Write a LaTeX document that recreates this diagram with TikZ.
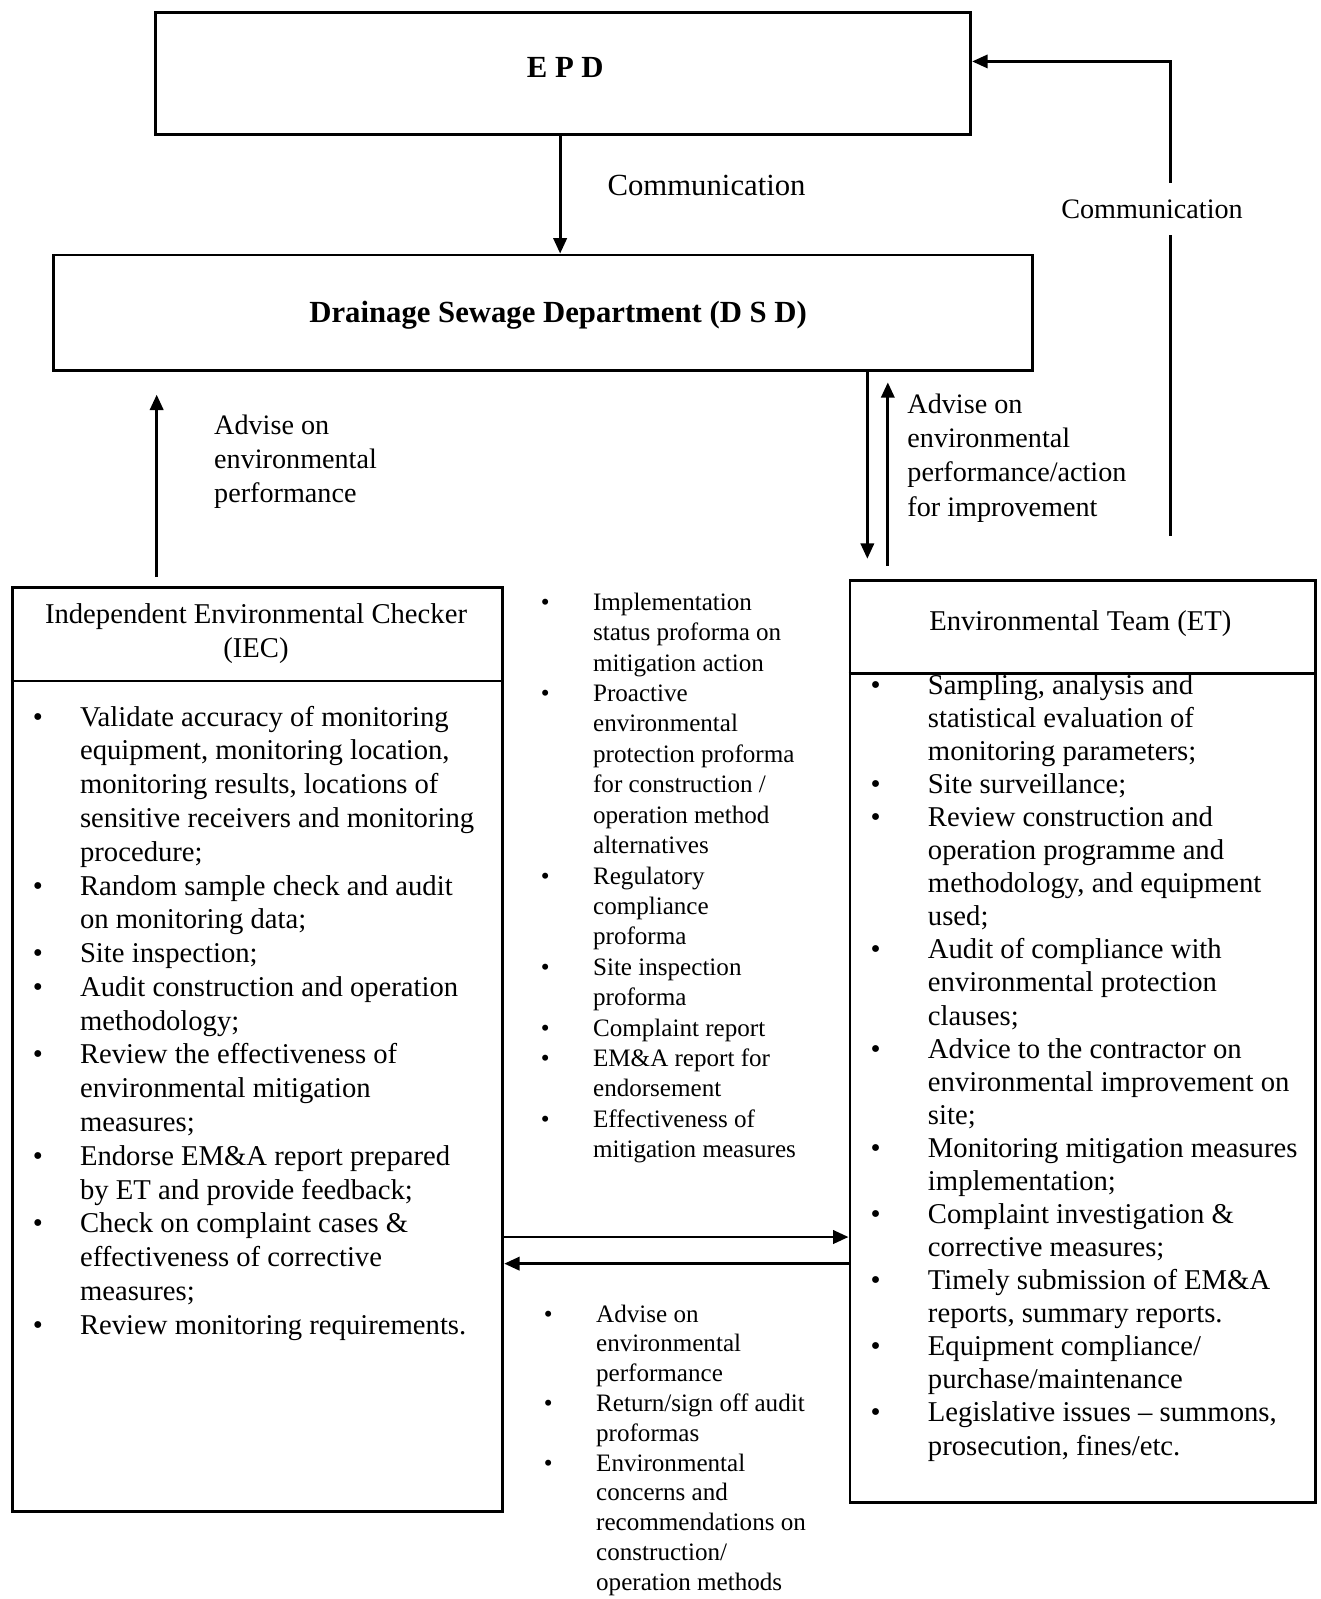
\documentclass[tikz,border=0pt]{standalone}
\usepackage{fontspec}
\setmainfont{Liberation Serif}
\usetikzlibrary{arrows.meta}
\newcommand{\mb}{\makebox[46pt][l]{\textbullet}}
\newcommand{\mbs}{\makebox[51pt][l]{\textbullet}}
\newcommand{\mbe}{\makebox[56pt][l]{\textbullet}}
\begin{document}
\begin{tikzpicture}[x=1pt,y=-1pt,
  box/.style={draw, line width=2.8pt, inner sep=0pt},
  rule/.style={line width=2.6pt},
  arr/.style={line width=2.7pt, -{Triangle[length=15pt,width=13pt]}},
  txt/.style={inner sep=0pt},
  big/.style={font=\fontsize{28}{33}\selectfont},
  etf/.style={font=\fontsize{28}{32.3}\selectfont},
  mid/.style={font=\fontsize{24.5}{29.7}\selectfont},
  midl/.style={font=\fontsize{24.5}{29.1}\selectfont},
  lab/.style={font=\fontsize{27.5}{33.3}\selectfont},
]
\useasboundingbox (0,0) rectangle (1290,1561.5);
\fill[white] (0,0) rectangle (1290,1561.5);

% boxes
\node[box, minimum width=796pt, minimum height=119pt] (epd) at (550,71.5) {};
\node[txt, font=\bfseries\fontsize{30}{36}\selectfont] (epdt) at (552,66) {E P D};
\node[box, minimum width=956pt, minimum height=113pt] (dsd) at (530,305.5) {};
\node[txt, font=\bfseries\fontsize{30}{36}\selectfont] (dsdt) at (545,308) {Drainage Sewage Department (D S D)};
\node[box, minimum width=479pt, minimum height=902pt] (iec) at (251.5,1025) {};
\node[box, minimum width=455pt, minimum height=900pt] (et) at (1057.5,1017) {};

% header dividers
\coordinate (d1) at (0,665);
\coordinate (d2) at (0,658);
\draw[rule] (iec.west |- d1) -- (iec.east |- d1);
\draw[rule] (et.west |- d2) -- (et.east |- d2);

% titles
\node[txt, big, align=center] (iect) at (250,619) {Independent Environmental Checker\\(IEC)};
\node[txt, big] (ett) at (1055,609) {Environmental Team (ET)};

% EPD -> DSD
\coordinate (xa) at (547,0);
\draw[arr] (epd.south -| xa) -- (dsd.north -| xa);
\node[txt, font=\fontsize{30}{36}\selectfont] (comm1) at (690,181) {Communication};

% ET -> EPD communication
\coordinate (cr) at (1143,523);
\coordinate (ey) at (0,60);
\draw[arr, line width=2.2pt] (cr) |- (epd.east |- ey);
\node[fill=white, inner xsep=2pt, inner ysep=16pt, lab] (comm2) at (1125,204) {Communication};

% IEC -> DSD
\coordinate (xl) at (153,0);
\draw[arr, shorten <=9pt, shorten >=22pt] (iec.north -| xl) -- (dsd.south -| xl);
\node[txt, lab, anchor=base west] (lab1) at (209,424) {\begin{tabular}[t]{@{}l@{}}Advise on\\environmental\\performance\end{tabular}};

% DSD <-> ET
\coordinate (xd) at (847,0);
\coordinate (xu) at (867,0);
\draw[arr, shorten >=20pt] (dsd.south -| xd) -- (et.north -| xd);
\draw[arr, shorten <=13pt, shorten >=10pt] (et.north -| xu) -- (dsd.south -| xu);
\node[txt, lab, anchor=base west] (lab2) at (886,404) {\begin{tabular}[t]{@{}l@{}}Advise on\\environmental\\performance/action\\for improvement\end{tabular}};

% IEC <-> ET
\coordinate (ya) at (0,1208);
\coordinate (yb) at (0,1234);
\draw[arr] (iec.east |- ya) -- (et.west |- ya);
\draw[arr] (et.west |- yb) -- (iec.east |- yb);

% IEC list
\node[txt, big, anchor=base west] (ieclist) at (32,709) {\begin{tabular}[t]{@{}l@{}l@{}}
\mb & Validate accuracy of monitoring\\
& equipment, monitoring location,\\
& monitoring results, locations of\\
& sensitive receivers and monitoring\\
& procedure;\\
\mb & Random sample check and audit\\
& on monitoring data;\\
\mb & Site inspection;\\
\mb & Audit construction and operation\\
& methodology;\\
\mb & Review the effectiveness of\\
& environmental mitigation\\
& measures;\\
\mb & Endorse EM\&A report prepared\\
& by ET and provide feedback;\\
\mb & Check on complaint cases \&\\
& effectiveness of corrective\\
& measures;\\
\mb & Review monitoring requirements.
\end{tabular}};

% middle upper list
\node[txt, mid, anchor=base west] (midup) at (528,596) {\begin{tabular}[t]{@{}l@{}l@{}}
\mbs & Implementation\\
& status proforma on\\
& mitigation action\\
\mbs & Proactive\\
& environmental\\
& protection proforma\\
& for construction /\\
& operation method\\
& alternatives\\
\mbs & Regulatory\\
& compliance\\
& proforma\\
\mbs & Site inspection\\
& proforma\\
\mbs & Complaint report\\
\mbs & EM\&A report for\\
& endorsement\\
\mbs & Effectiveness of\\
& mitigation measures
\end{tabular}};

% middle lower list
\node[txt, midl, anchor=base west] (midlow) at (531,1291) {\begin{tabular}[t]{@{}l@{}l@{}}
\mbs & Advise on\\
& environmental\\
& performance\\
\mbs & Return/sign off audit\\
& proformas\\
\mbs & Environmental\\
& concerns and\\
& recommendations on\\
& construction/\\
& operation methods
\end{tabular}};

% ET list
\node[txt, etf, anchor=base west] (etlist) at (850,678) {\begin{tabular}[t]{@{}l@{}l@{}}
\mbe & Sampling, analysis and\\
& statistical evaluation of\\
& monitoring parameters;\\
\mbe & Site surveillance;\\
\mbe & Review construction and\\
& operation programme and\\
& methodology, and equipment\\
& used;\\
\mbe & Audit of compliance with\\
& environmental protection\\
& clauses;\\
\mbe & Advice to the contractor on\\
& environmental improvement on\\
& site;\\
\mbe & Monitoring mitigation measures\\
& implementation;\\
\mbe & Complaint investigation \&\\
& corrective measures;\\
\mbe & Timely submission of EM\&A\\
& reports, summary reports.\\
\mbe & Equipment compliance/\\
& purchase/maintenance\\
\mbe & Legislative issues – summons,\\
& prosecution, fines/etc.
\end{tabular}};
\end{tikzpicture}
\end{document}
